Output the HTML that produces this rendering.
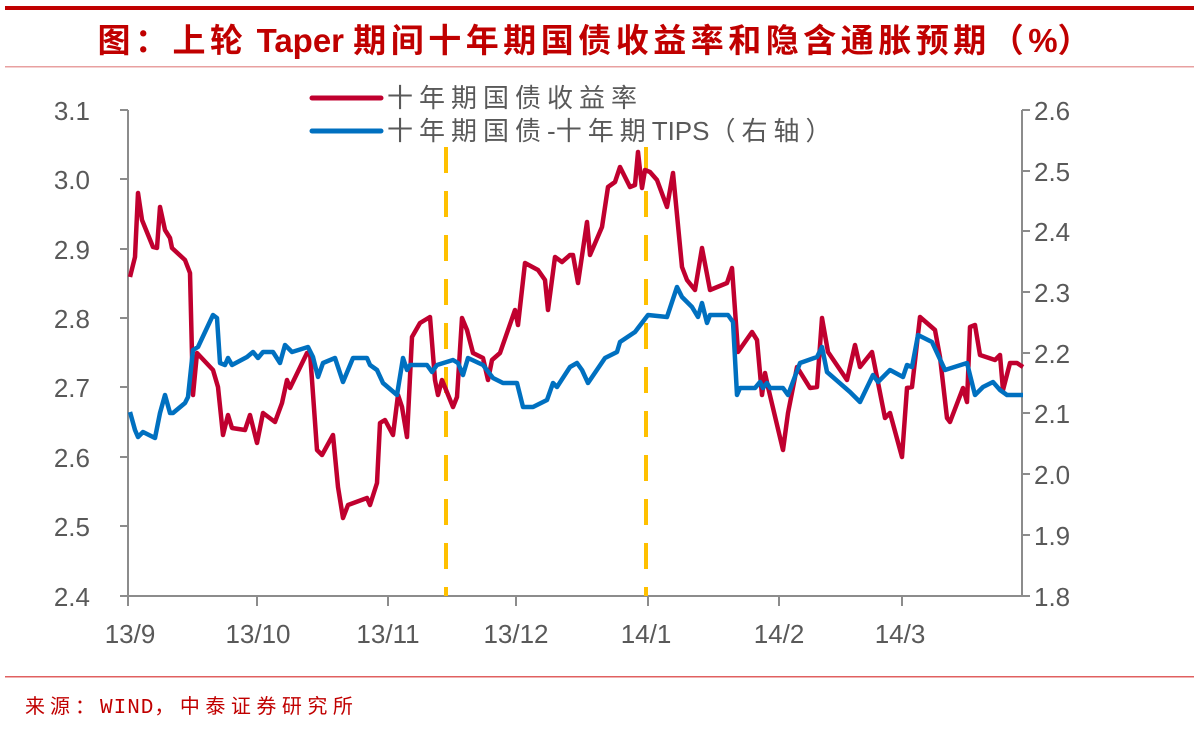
<!DOCTYPE html>
<html><head><meta charset="utf-8"><style>
body{margin:0;background:#fff;}
svg text{font-family:"Liberation Sans","Noto Sans CJK SC",sans-serif;}
</style></head><body>
<svg width="1194" height="724" viewBox="0 0 1194 724" xmlns="http://www.w3.org/2000/svg">
<rect width="1194" height="724" fill="#fff"/>
<rect x="5" y="6" width="1189" height="4" fill="#C00000"/>
<text x="594" y="52" text-anchor="middle" font-size="33" font-weight="bold" fill="#C00000"><tspan letter-spacing="4.5">图：上轮</tspan> Taper <tspan letter-spacing="4.5">期间十年期国债收益率和隐含通胀预期（</tspan>%）</text>
<rect x="5" y="66" width="1189" height="1.5" fill="#E8A0A0"/>
<rect x="5" y="676" width="1189" height="1.5" fill="#E06060"/>
<text x="25" y="713" font-size="20" fill="#C00000"><tspan letter-spacing="5">来源：</tspan><tspan font-family="'Liberation Mono',monospace" font-size="21" letter-spacing="1">WIND</tspan><tspan letter-spacing="5.5">，中泰证券研究所</tspan></text>

<g stroke="#8c8c8c" stroke-width="2" fill="none">
<line x1="128" y1="110" x2="128" y2="596"/>
<line x1="1022" y1="110" x2="1022" y2="596"/>
<line x1="120" y1="596" x2="1030" y2="596"/>
<path d="M120 110H128M120 179H128M120 249H128M120 318H128M120 387H128M120 457H128M120 526H128"/>
<path d="M1022 110H1030M1022 171H1030M1022 231H1030M1022 292H1030M1022 353H1030M1022 413H1030M1022 474H1030M1022 535H1030"/>
<path d="M128 596V606M257 596V606M388 596V606M516 596V606M648 596V606M779 596V606M902 596V606"/>
</g>
<g font-size="26" fill="#595959" text-anchor="end">
<text x="90" y="120">3.1</text><text x="90" y="189">3.0</text><text x="90" y="259">2.9</text><text x="90" y="328">2.8</text><text x="90" y="397">2.7</text><text x="90" y="467">2.6</text><text x="90" y="536">2.5</text><text x="90" y="606">2.4</text>
</g>
<g font-size="26" fill="#595959">
<text x="1034" y="120">2.6</text><text x="1034" y="181">2.5</text><text x="1034" y="241">2.4</text><text x="1034" y="302">2.3</text><text x="1034" y="363">2.2</text><text x="1034" y="423">2.1</text><text x="1034" y="484">2.0</text><text x="1034" y="545">1.9</text><text x="1034" y="606">1.8</text>
</g>
<g font-size="26" fill="#595959" text-anchor="middle">
<text x="130" y="643">13/9</text><text x="258" y="643">13/10</text><text x="388" y="643">13/11</text><text x="516" y="643">13/12</text><text x="646" y="643">14/1</text><text x="779" y="643">14/2</text><text x="900" y="643">14/3</text>
</g>

<g stroke="#FFC000" stroke-width="4" stroke-dasharray="26 18">
<line x1="446" y1="147" x2="446" y2="596"/>
<line x1="646" y1="147" x2="646" y2="596"/>
</g>

<polyline fill="none" stroke="#C0002F" stroke-width="4.5" stroke-linejoin="round" points="130,277 135,257 138,193 142,220 153,247 157,248 160,207 165,230 170,238 172,248 185,260 190,273 193,395 197,353 213,370 218,387 223,435 228,415 232,428 245,430 250,415 257,443 263,413 275,422 282,403 287,380 290,388 307,353 310,352 317,450 322,455 333,435 338,487 343,518 348,505 367,498 370,505 377,483 380,423 385,420 393,435 398,395 402,407 407,437 412,337 420,323 430,317 435,380 438,395 442,380 453,407 457,397 462,318 467,330 473,353 483,358 488,380 492,360 500,353 515,310 518,325 525,263 538,270 545,280 548,310 555,257 562,262 570,255 573,255 578,283 587,222 590,255 602,227 608,187 615,182 620,167 630,187 635,185 638,152 642,188 645,170 650,172 657,180 667,207 673,173 682,267 687,280 695,290 702,248 710,290 727,283 732,268 738,352 752,332 757,340 762,395 765,373 768,387 783,450 788,413 797,367 810,388 817,387 822,318 828,352 847,380 855,345 860,367 872,352 885,418 890,413 902,457 907,388 912,387 920,317 935,330 940,357 947,418 950,422 963,388 967,402 970,327 975,325 980,355 995,360 1000,355 1003,390 1010,363 1017,363 1023,367"/>
<polyline fill="none" stroke="#0070C0" stroke-width="4.5" stroke-linejoin="round" points="130,412 135,430 138,437 143,432 155,438 160,413 165,395 170,413 173,413 185,403 188,397 193,350 198,347 213,315 217,318 220,363 225,365 228,358 232,365 247,357 253,352 258,358 263,352 273,352 280,363 285,345 292,352 308,347 313,357 318,377 323,363 335,358 343,382 353,358 367,358 370,365 377,370 383,383 397,395 403,358 407,370 410,365 427,365 432,372 437,365 453,360 458,363 463,375 468,358 483,365 493,378 503,383 517,383 523,407 533,407 547,400 553,383 557,387 570,367 577,363 582,370 588,383 605,358 617,352 620,342 635,332 648,315 667,317 677,287 682,297 692,307 698,317 702,303 707,323 710,315 728,315 733,322 737,395 740,388 755,388 760,382 763,388 767,383 770,388 783,388 788,395 800,363 817,357 822,347 827,372 850,392 860,402 873,375 878,382 890,370 903,377 907,365 912,367 918,335 932,342 945,370 967,363 975,395 983,387 993,382 1000,390 1007,395 1023,395"/>

<line x1="312" y1="98" x2="381" y2="98" stroke="#C0002F" stroke-width="5" stroke-linecap="round"/>
<line x1="312" y1="131" x2="381" y2="131" stroke="#0070C0" stroke-width="5" stroke-linecap="round"/>
<g font-size="26" fill="#595959">
<text x="387" y="107" letter-spacing="6">十年期国债收益率</text>
<text x="387" y="140"><tspan letter-spacing="6">十年期国债</tspan>-<tspan letter-spacing="6">十年期</tspan>TIPS<tspan letter-spacing="6">（右轴）</tspan></text>
</g>
</svg>
</body></html>
